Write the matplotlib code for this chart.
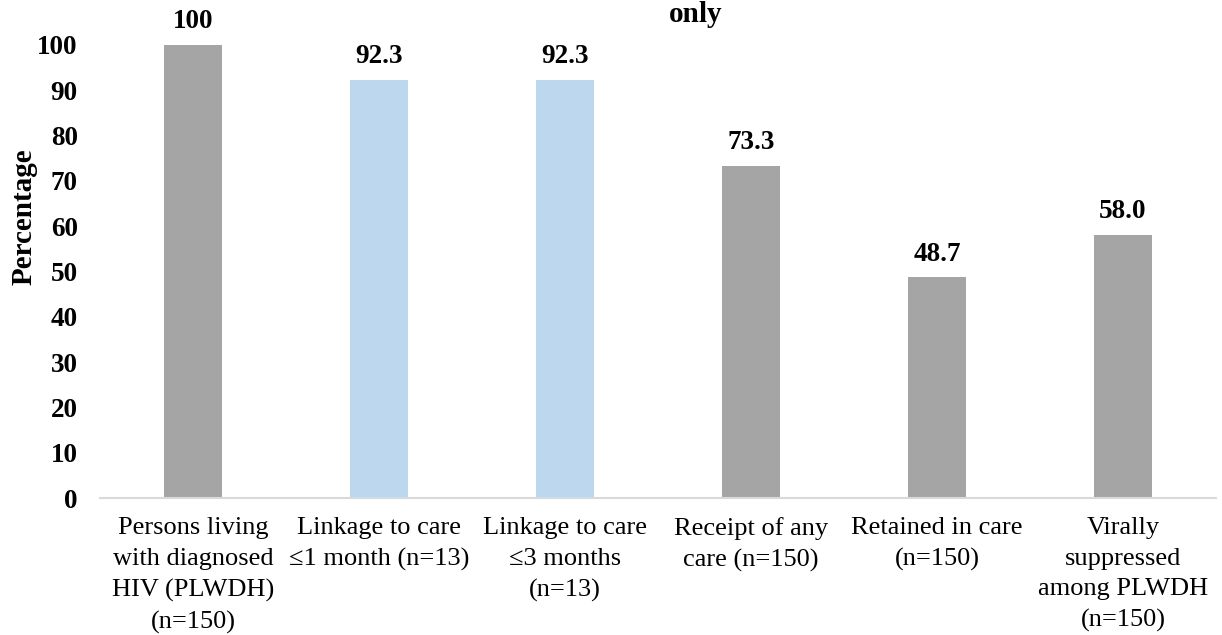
import matplotlib
matplotlib.use("Agg")
import matplotlib.pyplot as plt

categories = ["Persons living\nwith diagnosed\nHIV (PLWDH)\n(n=150)",
              "Linkage to care\n\u22641 month (n=13)",
              "Linkage to care\n\u22643 months\n(n=13)",
              "Receipt of any\ncare (n=150)",
              "Retained in care\n(n=150)",
              "Virally\nsuppressed\namong PLWDH\n(n=150)"]
values = [100, 92.3, 92.3, 73.3, 48.7, 58.0]
labels = ["100", "92.3", "92.3", "73.3", "48.7", "58.0"]
colors = ["#A5A5A5", "#BDD7EE", "#BDD7EE", "#A5A5A5", "#A5A5A5", "#A5A5A5"]
yticks = list(range(0, 101, 10))

plt.rcParams['font.family'] = ['Liberation Serif', 'DejaVu Serif']

W, H = 1222, 635
fig = plt.figure(figsize=(W / 100, H / 100), dpi=100)
ax = fig.add_axes([100 / W, 1 - 498 / H, 1116 / W, 453 / H])
x = range(len(categories))
ax.bar(x, values, width=0.31, color=colors)
for i, (v, l) in enumerate(zip(values, labels)):
    ax.text(i, v + 2.4, l, ha='center', va='bottom', fontsize=19.5, fontweight='bold', clip_on=False)
ax.set_xlim(-0.5, len(categories) - 0.5)
ax.set_ylim(0, 100)
ax.set_yticks(yticks)
ax.set_yticklabels([str(t) for t in yticks], fontsize=19.5, fontweight='bold')
ax.set_xticks(list(x))
ax.set_xticklabels(categories, fontsize=19, linespacing=1.5)
ax.tick_params(axis='both', length=0)
ax.tick_params(axis='x', pad=14)
ax.tick_params(axis='y', pad=16)
for s in ['top', 'right', 'left']:
    ax.spines[s].set_visible(False)
ax.spines['bottom'].set_color('#D9D9D9')
ax.spines['bottom'].set_linewidth(1.5)
ax.set_ylabel("Percentage", fontsize=21, fontweight='bold')
ax.yaxis.set_label_coords(-0.056, 0.622)
fig.text(696 / W, 1 - 14 / H, "only", ha='center', va='center', fontsize=21, fontweight='bold')
fig.savefig("out.png", dpi=100)
